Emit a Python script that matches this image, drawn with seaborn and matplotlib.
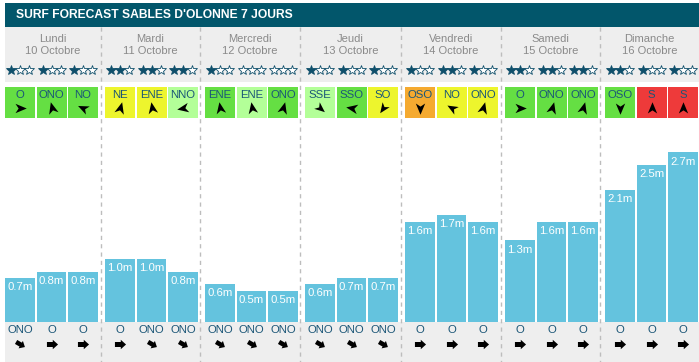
import numpy as np
import pandas as pd
import matplotlib
matplotlib.use("Agg")
import matplotlib.pyplot as plt
import seaborn as sns
from matplotlib.path import Path
from matplotlib.patches import Rectangle
import matplotlib.transforms as mtransforms

# ---------------- data ----------------
title = "SURF FORECAST SABLES D'OLONNE 7 JOURS"
days = ["Lundi", "Mardi", "Mercredi", "Jeudi", "Vendredi", "Samedi", "Dimanche"]
dates = ["10 Octobre", "11 Octobre", "12 Octobre", "13 Octobre",
         "14 Octobre", "15 Octobre", "16 Octobre"]
wave_heights = [0.7, 0.8, 0.8, 1.0, 1.0, 0.8, 0.6, 0.5, 0.5, 0.6, 0.7, 0.7,
                1.6, 1.7, 1.6, 1.3, 1.6, 1.6, 2.1, 2.5, 2.7]
stars = [1, 1, 1, 2, 2, 2, 1, 0, 0, 1, 1, 1, 1, 2, 1, 2, 2, 2, 2, 1, 1]
wind_dir = ["O", "ONO", "NO", "NE", "ENE", "NNO", "ENE", "ENE", "ONO",
            "SSE", "SSO", "SO", "OSO", "NO", "ONO", "O", "ONO", "ONO",
            "OSO", "S", "S"]
wind_level = ["good", "good", "good", "fair", "fair", "great", "good", "great", "good",
              "great", "good", "fair", "poor", "fair", "fair", "good", "good", "good",
              "good", "bad", "bad"]
wind_arrow_deg = [0, 105, 155, 75, 100, 190, 100, 100, 75,
                  -40, 170, 235, 270, 150, 75, 0, 75, 75,
                  270, 90, 90]
swell_dir = ["ONO", "O", "O", "O", "ONO", "ONO", "ONO", "ONO", "ONO",
             "ONO", "ONO", "ONO", "O", "O", "O", "O", "O", "O", "O", "O", "O"]
swell_arrow_deg = {"O": 0, "ONO": -30}

# ---------------- style ----------------
TITLE_BG = "#02566b"
GREY_BG = "#eeeeee"
BAR = "#64c3de"
TEAL = "#0f4f6b"
DIR_TXT = "#1b5677"
DAY_TXT = "#8a8a8a"
LEVEL_COL = {"great": "#b3ff98", "good": "#65df43", "fair": "#edf52d",
             "poor": "#f5aa30", "bad": "#ee3a3a"}

sns.set_theme(style="white")
plt.rcParams['font.family'] = ['Liberation Sans', 'DejaVu Sans']

W, H = 699, 362
fig = plt.figure(figsize=(W / 100, H / 100), dpi=100)
fig.patch.set_facecolor("white")

bg = fig.add_axes([0, 0, 1, 1])
bg.set_xlim(0, W)
bg.set_ylim(H, 0)
bg.axis("off")

day_edges = [5, 101, 200, 300, 401, 501, 600, 699]
day_centers = [(day_edges[i] + day_edges[i + 1]) / 2 for i in range(7)]
DAY_W, SLOT0, SLOT_W = 100, 20, 31.5
xs = [DAY_W * d + SLOT0 + SLOT_W * s for d in range(7) for s in range(3)]

# title bar & grey bands
bg.add_patch(Rectangle((5, 3), W - 5, 24, color=TITLE_BG, lw=0))
bg.text(16, 15.5, title, color="white", fontsize=8.7, fontweight="bold",
        va="center", ha="left")
bg.add_patch(Rectangle((5, 27), W - 5, 55, color=GREY_BG, lw=0))
BASE_PX = 322
bg.add_patch(Rectangle((5, BASE_PX), W - 5, H - BASE_PX, color=GREY_BG, lw=0))
bg.vlines(day_edges[1:-1], 27, H, colors="#bdbdbd", linestyles=(0, (3, 3)), lw=1)

for d in range(7):
    bg.text(day_centers[d], 38.5, days[d], ha="center", va="center",
            color=DAY_TXT, fontsize=8)
    bg.text(day_centers[d], 50.5, dates[d], ha="center", va="center",
            color=DAY_TXT, fontsize=8)

# arrow marker shapes
nav_verts = np.array([(1, 0), (-0.8, 0.75), (-0.3, 0), (-0.8, -0.75), (1, 0)])
nav_codes = [Path.MOVETO, Path.LINETO, Path.LINETO, Path.LINETO, Path.CLOSEPOLY]
fat_verts = np.array([(-1, -0.45), (0.05, -0.45), (0.05, -0.85), (1, 0),
                      (0.05, 0.85), (0.05, 0.45), (-1, 0.45), (-1, -0.45)])
fat_codes = [Path.MOVETO] + [Path.LINETO] * 6 + [Path.CLOSEPOLY]


def rot_path(verts, codes, deg):
    t = mtransforms.Affine2D().rotate_deg(deg)
    return Path(t.transform(verts), codes)


for i, xc in enumerate(xs):
    # stars
    for k in range(3):
        sx = xc + (k - 1) * 9
        filled = k < stars[i]
        bg.plot(sx, 70, marker="*", ms=7, mec=TEAL, mew=0.6,
                mfc=TEAL if filled else "white", ls="none")
    # wind box
    bg.add_patch(Rectangle((xc - 15, 87), 30, 31, color=LEVEL_COL[wind_level[i]], lw=0))
    bg.text(xc, 95.5, wind_dir[i], ha="center", va="center", color=DIR_TXT, fontsize=8.2)
    bg.plot(xc, 108, marker=rot_path(nav_verts, nav_codes, wind_arrow_deg[i]),
            ms=9, color="black", mec="black", mew=0, ls="none")
    # swell
    bg.text(xc, 330, swell_dir[i], ha="center", va="center", color=DIR_TXT, fontsize=8.2)
    bg.plot(xc, 343.5, marker=rot_path(fat_verts, fat_codes, swell_arrow_deg[swell_dir[i]]),
            ms=8, color="black", mec="black", mew=0, ls="none")

# ---------------- bars ----------------
PX_PER_M = 62.8
ax = fig.add_axes([0, 0, 1, 1])
ax.patch.set_alpha(0)
df = pd.DataFrame({"x": xs, "h": wave_heights})
sns.barplot(data=df, x="x", y="h", native_scale=True, width=0.95, color=BAR,
            saturation=1, errorbar=None, ax=ax, edgecolor="none", linewidth=0)
ax.set_xlim(0, W)
ax.set_ylim(-(H - BASE_PX) / PX_PER_M, BASE_PX / PX_PER_M)
ax.axis("off")
for x, h in zip(xs, wave_heights):
    ax.annotate(f"{h:.1f}m", (x, h), xytext=(0, -6.6), textcoords="offset points",
                ha="center", va="center", color="white", fontsize=8.2)

fig.savefig("out.png", dpi=100, facecolor="white")
